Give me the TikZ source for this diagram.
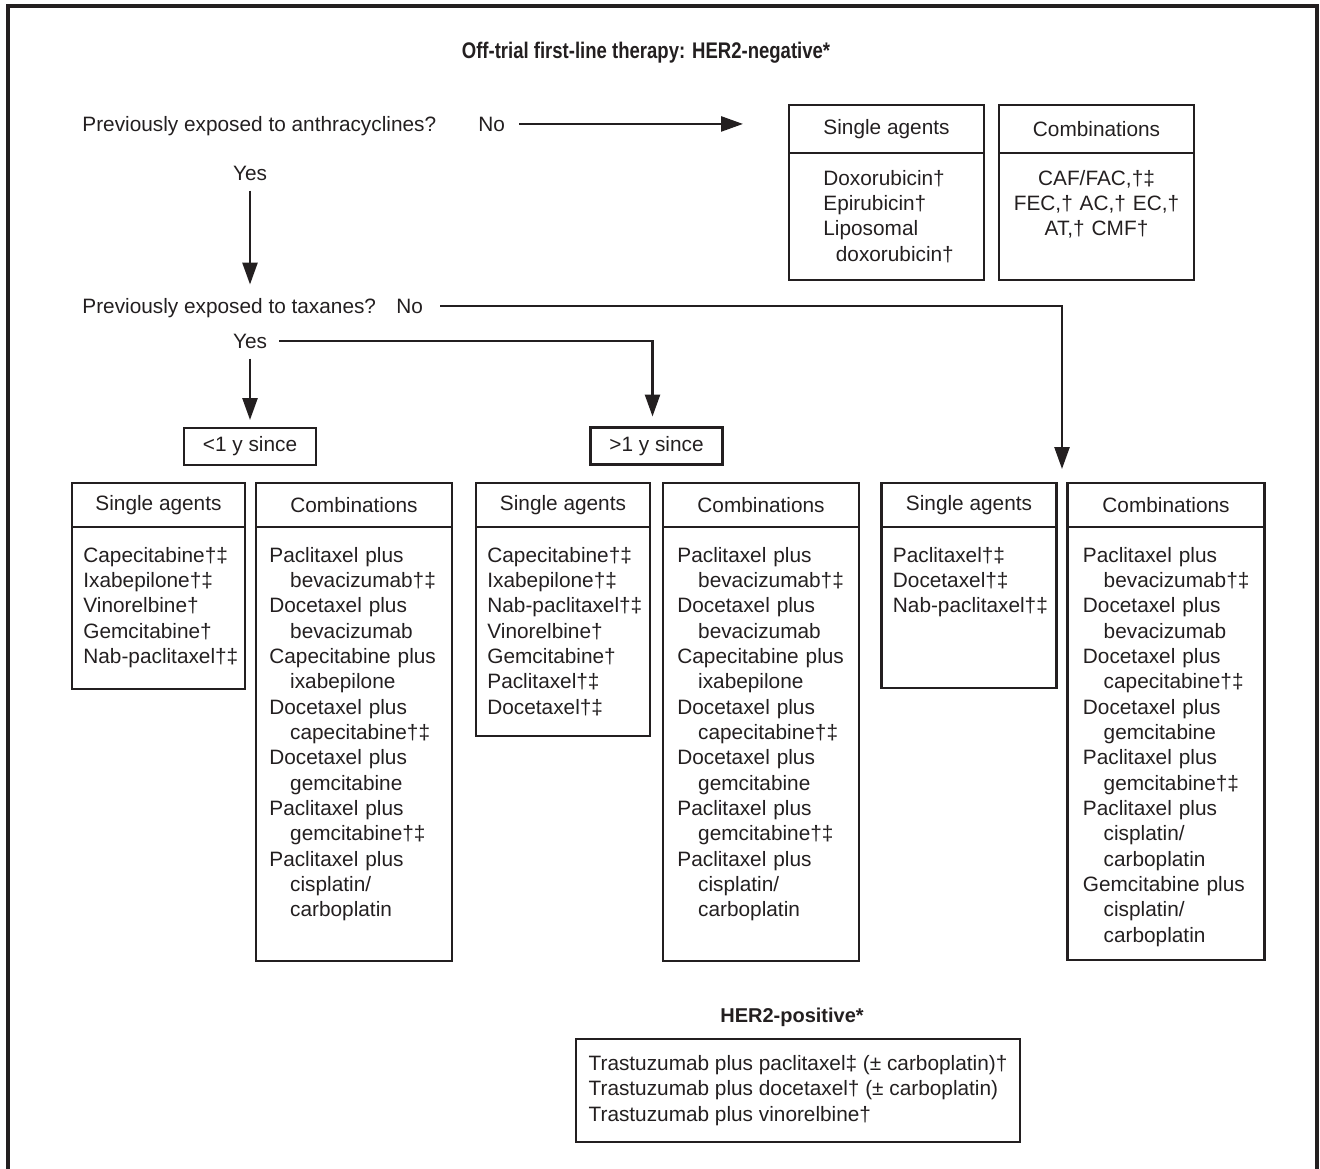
\documentclass[tikz,border=0pt]{standalone}
\usepackage{fontspec}
\setmainfont{Liberation Sans}
\newfontfamily\titlefont{Liberation Sans}[FakeStretch=0.82]
\usepackage{tikz}
\usetikzlibrary{arrows.meta,positioning,calc}
\definecolor{ink}{HTML}{231F20}
\tikzset{
  ask/.style={inner sep=0pt,anchor=base west},
  head/.style={draw,line width=1.4pt,inner sep=0pt,outer sep=0pt,anchor=north west,
    minimum height=22pt},
  panel/.style={draw,line width=1.4pt,inner sep=0pt,outer sep=0pt,anchor=north west},
  items/.style={inner sep=0pt,anchor=base west,align=left,text width=92pt},
  since/.style={draw,line width=1.4pt,inner sep=0pt,outer sep=0pt,minimum width=66pt,
    minimum height=18.5pt},
  arr/.style={-{Triangle[length=11pt,width=7.5pt]},line width=1.3pt,draw=ink}
}
\newcommand{\agentfont}{\fontsize{10.4}{12.67}\selectfont}
\newcommand{\nxt}{\\\hspace*{1em}}
\newcommand{\taxcombos}{Paclitaxel plus\nxt bevacizumab†‡\\Docetaxel plus\nxt bevacizumab\\
  Capecitabine plus\nxt ixabepilone\\Docetaxel plus\nxt capecitabine†‡\\
  Docetaxel plus\nxt gemcitabine\\Paclitaxel plus\nxt gemcitabine†‡\\
  Paclitaxel plus\nxt cisplatin/\nxt carboplatin}

\begin{document}
\begin{tikzpicture}[x=0.5pt,y=-0.5pt,color=ink,font=\agentfont]
\useasboundingbox (0,0) rectangle (1320,1168);
\draw[line width=2pt] (8,1180) -- (8,6) -- (1317,6) -- (1317,1180);

\node[font=\titlefont\bfseries\fontsize{11.3}{13.6}\selectfont] (title) at (646,53)
  {Off-trial first-line therapy: HER2-negative*};

% questions
\node[ask] (q1) at (82,131) {Previously exposed to anthracyclines?};
\node[ask] (no1) at (478,131) {No};
\node[ask,anchor=base] (yes1) at (250,180) {Yes};
\node[ask] (q2) at (82,313) {Previously exposed to taxanes?};
\node[ask] (no2) at (396,313) {No};
\node[ask,anchor=base] (yes2) at (250,348) {Yes};

% no anthracyclines
\node[head,minimum width=97.5pt,minimum height=24pt] (ts-h) at (789,105) {Single agents};
\node[panel,minimum width=97.5pt,minimum height=63.5pt] (ts-b) at (ts-h.south west) {};
\node[items] (ts-t) at ($(ts-b.north west)+(34,32)$)
  {Doxorubicin†\\Epirubicin†\\Liposomal\\\hspace*{.6em}doxorubicin†};
\node[head,minimum width=97.5pt,minimum height=24pt,right=7.5pt of ts-h] (tc-h) {Combinations};
\node[panel,minimum width=97.5pt,minimum height=63.5pt] (tc-b) at (tc-h.south west) {};
\node[items,anchor=base,align=center,text width=95pt] (tc-t) at ($(tc-b.north)+(0,32)$)
  {CAF/FAC,†‡\\FEC,† AC,† EC,†\\AT,† CMF†};

\node[since] (lt) at (250,446.5) {<1 y since};
\node[since] (gt) at (656.5,446) {>1 y since};

% <1 y since
\node[head,minimum width=86.5pt] (g1s-h) at (72,483) {Single agents};
\node[panel,minimum width=86.5pt,minimum height=81pt] (g1s-b) at (g1s-h.south west) {};
\node[items] (g1s-t) at ($(g1s-b.north west)+(11,35)$)
  {Capecitabine†‡\\Ixabepilone†‡\\Vinorelbine†\\Gemcitabine†\\Nab-paclitaxel†‡};
\node[head,minimum width=98pt,right=5.5pt of g1s-h] (g1c-h) {Combinations};
\node[panel,minimum width=98pt,minimum height=217pt] (g1c-b) at (g1c-h.south west) {};
\node[items] (g1c-t) at ($(g1c-b.north west)+(13,35)$) {\taxcombos};

% >1 y since
\node[head,minimum width=87pt] (g2s-h) at (476,483) {Single agents};
\node[panel,minimum width=87pt,minimum height=104.5pt] (g2s-b) at (g2s-h.south west) {};
\node[items] (g2s-t) at ($(g2s-b.north west)+(11,35)$)
  {Capecitabine†‡\\Ixabepilone†‡\\Nab-paclitaxel†‡\\Vinorelbine†\\Gemcitabine†\\
   Paclitaxel†‡\\Docetaxel†‡};
\node[head,minimum width=98pt,right=6.5pt of g2s-h] (g2c-h) {Combinations};
\node[panel,minimum width=98pt,minimum height=217pt] (g2c-b) at (g2c-h.south west) {};
\node[items] (g2c-t) at ($(g2c-b.north west)+(14,35)$) {\taxcombos};

% taxane naive
\node[head,minimum width=87.5pt] (g3s-h) at (881.5,483) {Single agents};
\node[panel,minimum width=87.5pt,minimum height=80.5pt] (g3s-b) at (g3s-h.south west) {};
\node[items] (g3s-t) at ($(g3s-b.north west)+(11,35)$)
  {Paclitaxel†‡\\Docetaxel†‡\\Nab-paclitaxel†‡};
\node[head,minimum width=98.5pt,right=5.5pt of g3s-h] (g3c-h) {Combinations};
\node[panel,minimum width=98.5pt,minimum height=216.5pt] (g3c-b) at (g3c-h.south west) {};
\node[items] (g3c-t) at ($(g3c-b.north west)+(15,35)$)
  {Paclitaxel plus\nxt bevacizumab†‡\\Docetaxel plus\nxt bevacizumab\\
   Docetaxel plus\nxt capecitabine†‡\\Docetaxel plus\nxt gemcitabine\\
   Paclitaxel plus\nxt gemcitabine†‡\\Paclitaxel plus\nxt cisplatin/\nxt carboplatin\\
   Gemcitabine plus\nxt cisplatin/\nxt carboplatin};

% HER2 positive
\node[font=\bfseries\fontsize{10}{12}\selectfont] (pos) at (792,1017) {HER2-positive*};
\node[draw,line width=1.4pt,outer sep=0pt,anchor=north west,minimum width=222pt,
  minimum height=51.5pt,align=left] (her2) at (576,1039)
  {Trastuzumab plus paclitaxel‡ (± carboplatin)†\\Trastuzumab plus docetaxel† (± carboplatin)\\
   Trastuzumab plus vinorelbine†};

% connectors
\draw[arr,shorten <=7pt] (no1.east) -- ($(no1.east -| ts-h.west)+(-46,0)$);
\draw[arr,shorten <=5pt,shorten >=6.5pt] (yes1.south) -- (yes1.south |- q2.north);
\draw[arr,shorten <=8.5pt] (no2.east) -| ($(g3s-h.north east)!.5!(g3c-h.north west)+(0,-14)$);
\draw[arr,shorten <=6pt] (yes2.east) -| ($(gt.north)+(-4,-11)$);
\draw[arr,shorten <=5pt,shorten >=4pt] (yes2.south) -- (yes2.south |- lt.north);
\end{tikzpicture}
\end{document}
